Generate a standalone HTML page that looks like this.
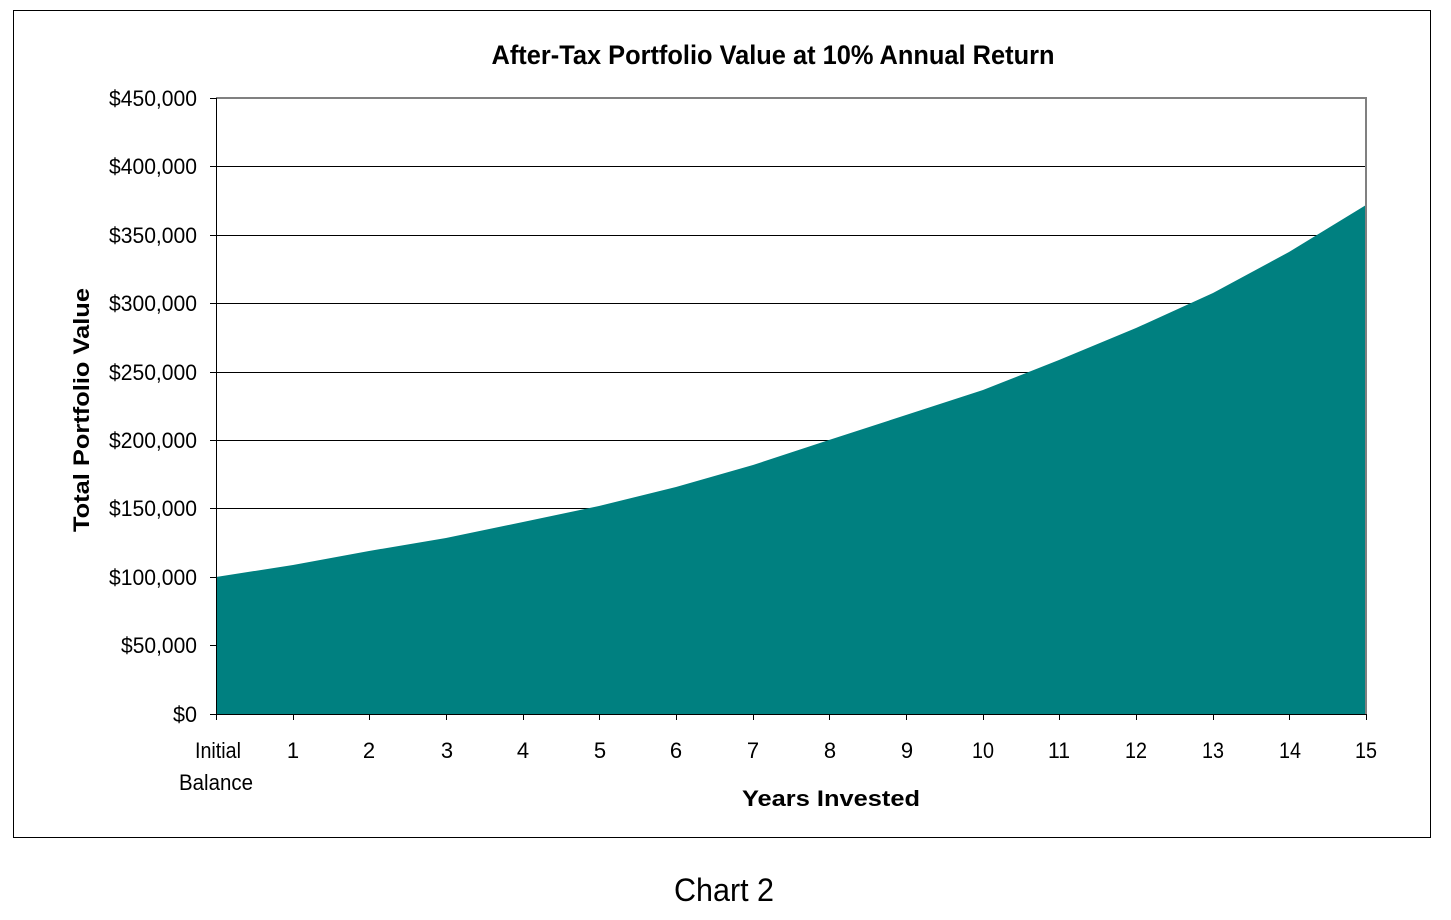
<!DOCTYPE html>
<html><head><style>body{margin:0;background:#fff}svg{display:block}</style></head><body>
<svg width="1451" height="920" xmlns="http://www.w3.org/2000/svg" font-family="Liberation Sans, sans-serif">
<rect x="13.5" y="10.5" width="1417" height="827" fill="#fff" stroke="#000" stroke-width="1"/>
<text x="773" y="64" font-size="27" font-weight="bold" text-anchor="middle" textLength="563" lengthAdjust="spacingAndGlyphs">After-Tax Portfolio Value at 10% Annual Return</text>
<g stroke="#000" stroke-width="1">
<line x1="216" y1="166.5" x2="1366" y2="166.5"/><line x1="216" y1="235.5" x2="1366" y2="235.5"/>
<line x1="216" y1="303.5" x2="1366" y2="303.5"/><line x1="216" y1="372.5" x2="1366" y2="372.5"/>
<line x1="216" y1="440.5" x2="1366" y2="440.5"/><line x1="216" y1="508.5" x2="1366" y2="508.5"/>
<line x1="216" y1="577.5" x2="1366" y2="577.5"/><line x1="216" y1="645.5" x2="1366" y2="645.5"/>
</g>
<polygon fill="#008080" points="216,714 216,577 293,565 369,551 446,538 523,522 599,506 676,487 753,465 829,440 906,415 983,390 1059,360 1136,328 1213,293 1289,252 1366,205 1366,714"/>
<polyline points="216,98 1366,98 1366,714" fill="none" stroke="#808080" stroke-width="2"/>
<line x1="216.5" y1="98" x2="216.5" y2="714" stroke="#000"/>
<line x1="210" y1="714.5" x2="1366" y2="714.5" stroke="#000"/>
<g stroke="#000">
<line x1="210" y1="98.5" x2="216" y2="98.5"/><line x1="210" y1="166.5" x2="216" y2="166.5"/><line x1="210" y1="235.5" x2="216" y2="235.5"/><line x1="210" y1="303.5" x2="216" y2="303.5"/><line x1="210" y1="372.5" x2="216" y2="372.5"/><line x1="210" y1="440.5" x2="216" y2="440.5"/><line x1="210" y1="508.5" x2="216" y2="508.5"/><line x1="210" y1="577.5" x2="216" y2="577.5"/><line x1="210" y1="645.5" x2="216" y2="645.5"/>
<line x1="216.5" y1="714" x2="216.5" y2="720"/><line x1="293.5" y1="714" x2="293.5" y2="720"/><line x1="369.5" y1="714" x2="369.5" y2="720"/><line x1="446.5" y1="714" x2="446.5" y2="720"/><line x1="523.5" y1="714" x2="523.5" y2="720"/><line x1="599.5" y1="714" x2="599.5" y2="720"/><line x1="676.5" y1="714" x2="676.5" y2="720"/><line x1="753.5" y1="714" x2="753.5" y2="720"/><line x1="829.5" y1="714" x2="829.5" y2="720"/><line x1="906.5" y1="714" x2="906.5" y2="720"/><line x1="983.5" y1="714" x2="983.5" y2="720"/><line x1="1059.5" y1="714" x2="1059.5" y2="720"/><line x1="1136.5" y1="714" x2="1136.5" y2="720"/><line x1="1213.5" y1="714" x2="1213.5" y2="720"/><line x1="1289.5" y1="714" x2="1289.5" y2="720"/><line x1="1366.5" y1="714" x2="1366.5" y2="720"/>
</g>
<g font-size="22" text-anchor="end">
<text x="197" y="106" textLength="88" lengthAdjust="spacingAndGlyphs">$450,000</text>
<text x="197" y="174" textLength="88" lengthAdjust="spacingAndGlyphs">$400,000</text>
<text x="197" y="243" textLength="88" lengthAdjust="spacingAndGlyphs">$350,000</text>
<text x="197" y="311" textLength="88" lengthAdjust="spacingAndGlyphs">$300,000</text>
<text x="197" y="380" textLength="88" lengthAdjust="spacingAndGlyphs">$250,000</text>
<text x="197" y="448" textLength="88" lengthAdjust="spacingAndGlyphs">$200,000</text>
<text x="197" y="516" textLength="88" lengthAdjust="spacingAndGlyphs">$150,000</text>
<text x="197" y="585" textLength="88" lengthAdjust="spacingAndGlyphs">$100,000</text>
<text x="197" y="653" textLength="76" lengthAdjust="spacingAndGlyphs">$50,000</text>
<text x="197" y="722" textLength="24" lengthAdjust="spacingAndGlyphs">$0</text>
</g>
<g font-size="22" text-anchor="middle">
<text x="218" y="758" textLength="46" lengthAdjust="spacingAndGlyphs">Initial</text>
<text x="216" y="790" textLength="74" lengthAdjust="spacingAndGlyphs">Balance</text>
<text x="293" y="758">1</text><text x="369" y="758">2</text><text x="447" y="758">3</text><text x="523" y="758">4</text><text x="600" y="758">5</text><text x="676" y="758">6</text><text x="753" y="758">7</text><text x="830" y="758">8</text><text x="907" y="758">9</text>
<text x="983" y="758" textLength="22" lengthAdjust="spacingAndGlyphs">10</text><text x="1059" y="758" textLength="22" lengthAdjust="spacingAndGlyphs">11</text><text x="1136" y="758" textLength="22" lengthAdjust="spacingAndGlyphs">12</text><text x="1213" y="758" textLength="22" lengthAdjust="spacingAndGlyphs">13</text><text x="1290" y="758" textLength="22" lengthAdjust="spacingAndGlyphs">14</text><text x="1366" y="758" textLength="22" lengthAdjust="spacingAndGlyphs">15</text>
</g>
<text x="831" y="806" font-size="22" font-weight="bold" text-anchor="middle" textLength="178" lengthAdjust="spacingAndGlyphs">Years Invested</text>
<text transform="translate(89,410) rotate(-90)" font-size="22" font-weight="bold" text-anchor="middle" textLength="244" lengthAdjust="spacingAndGlyphs">Total Portfolio Value</text>
<text x="724" y="901" font-size="32" text-anchor="middle" textLength="100" lengthAdjust="spacingAndGlyphs">Chart 2</text>
</svg>
</body></html>
